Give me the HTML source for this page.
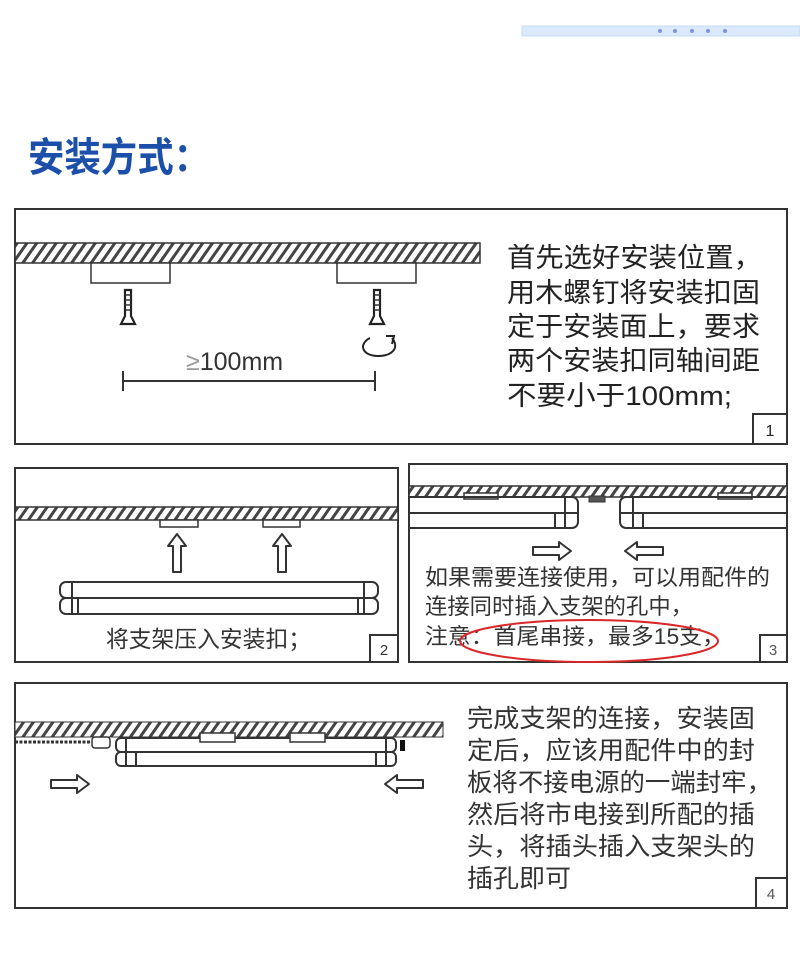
<!DOCTYPE html>
<html><head><meta charset="utf-8"><style>
html,body{margin:0;padding:0;background:#fff;}
svg{display:block;}
text{font-family:"Liberation Sans","Noto Sans CJK SC",sans-serif;}
</style></head><body>
<svg width="800" height="970" viewBox="0 0 800 970" xmlns="http://www.w3.org/2000/svg">
<defs>
<pattern id="h" width="8" height="8" patternUnits="userSpaceOnUse" patternTransform="rotate(35)">
<rect width="8" height="8" fill="#fff"/><rect width="3" height="8" fill="#444"/>
</pattern>
<g id="screw"><path d="M-3,0 L3,0 L3,26 L7,34 L-7,34 L-3,26 Z" fill="#fff" stroke="#222" stroke-width="2.2"/>
<path d="M-3,5 H3 M-3,10 H3 M-3,15 H3 M-3,20 H3" stroke="#333" stroke-width="1.4"/></g>
<g id="ar"><path d="M0,-4 H26 V-9 L38,0 L26,9 V4 H0 Z" fill="#fff" stroke="#333" stroke-width="2" stroke-linejoin="round"/></g>
</defs>

<rect x="522" y="26" width="278" height="10" fill="#dbe9fd" stroke="#c6dcf8"/>
<g fill="#7d93e6"><circle cx="660" cy="31" r="2"/><circle cx="675" cy="31" r="2"/><circle cx="692" cy="31" r="2"/><circle cx="708" cy="31" r="2"/><circle cx="725" cy="31" r="2"/></g>

<text x="28" y="171" font-size="40" font-weight="bold" fill="#1c4faa" textLength="182" lengthAdjust="spacingAndGlyphs">安装方式：</text>

<!-- Panel 1 -->
<rect x="15" y="209" width="772" height="235" fill="#fff" stroke="#333" stroke-width="2"/>
<rect x="15" y="243" width="465" height="20" fill="url(#h)" stroke="#333" stroke-width="1.5"/>
<rect x="91" y="263" width="79" height="20" fill="#fff" stroke="#333" stroke-width="1.5"/>
<rect x="337" y="263" width="79" height="20" fill="#fff" stroke="#333" stroke-width="1.5"/>
<use href="#screw" x="128" y="290"/>
<use href="#screw" x="377" y="290"/>
<path d="M370,338 C358,344 362,356 378,356 C392,356 400,348 392,338" fill="none" stroke="#222" stroke-width="2"/>
<path d="M386,336 L394,336 L392,344" fill="none" stroke="#222" stroke-width="2"/>
<text x="186" y="370" font-size="25" fill="#333"><tspan fill="#999">≥</tspan>100mm</text>
<path d="M123,381 H375 M123,371 V391 M375,371 V391" stroke="#333" stroke-width="2"/>
<g font-size="27" fill="#222" lengthAdjust="spacingAndGlyphs">
<text x="507" y="267" textLength="255" lengthAdjust="spacingAndGlyphs">首先选好安装位置，</text>
<text x="507" y="302" textLength="253" lengthAdjust="spacingAndGlyphs">用木螺钉将安装扣固</text>
<text x="507" y="336" textLength="253" lengthAdjust="spacingAndGlyphs">定于安装面上，要求</text>
<text x="507" y="370" textLength="253" lengthAdjust="spacingAndGlyphs">两个安装扣同轴间距</text>
<text x="507" y="405" textLength="225" lengthAdjust="spacingAndGlyphs">不要小于100mm;</text>
</g>
<rect x="753" y="414" width="34" height="30" fill="#fff" stroke="#333" stroke-width="2"/>
<text x="770" y="436" font-size="16" text-anchor="middle" fill="#222">1</text>

<!-- Panel 2 -->
<rect x="15" y="468" width="383" height="194" fill="#fff" stroke="#333" stroke-width="2"/>
<rect x="15" y="507" width="383" height="13" fill="url(#h)" stroke="#333" stroke-width="1.5"/>
<rect x="160" y="520" width="38" height="7" fill="#fff" stroke="#333" stroke-width="1.5"/>
<rect x="263" y="520" width="37" height="7" fill="#fff" stroke="#333" stroke-width="1.5"/>
<g transform="translate(177,572) rotate(-90)"><use href="#ar"/></g>
<g transform="translate(282,572) rotate(-90)"><use href="#ar"/></g>
<g fill="none" stroke="#333" stroke-width="2">
<rect x="60" y="582" width="318" height="16" rx="6"/>
<rect x="60" y="598" width="318" height="16" rx="6"/>
<path d="M72,582 V614 M78,598 V614 M364,582 V614 M358,598 V614"/>
</g>
<text x="106" y="647" font-size="23" fill="#333" textLength="205" lengthAdjust="spacingAndGlyphs">将支架压入安装扣；</text>
<rect x="370" y="635" width="28" height="27" fill="#fff" stroke="#333" stroke-width="2"/>
<text x="384" y="655" font-size="15" text-anchor="middle" fill="#333">2</text>

<!-- Panel 3 -->
<rect x="409" y="464" width="378" height="198" fill="#fff" stroke="#333" stroke-width="2"/>
<rect x="409" y="486" width="378" height="11" fill="url(#h)" stroke="#333" stroke-width="1.5"/>
<rect x="464" y="493" width="34" height="6" fill="#fff" stroke="#333" stroke-width="1.5"/>
<rect x="718" y="493" width="34" height="6" fill="#fff" stroke="#333" stroke-width="1.5"/>
<rect x="589" y="496" width="16" height="6" fill="#555" stroke="#333"/>
<g fill="none" stroke="#333" stroke-width="2">
<path d="M409,497 H572 a6,6 0 0 1 6,6 V522 a6,6 0 0 1 -6,6 H409 M409,513 H578 M565,497 V528 M555,513 V528"/>
<path d="M787,497 H626 a6,6 0 0 0 -6,6 V522 a6,6 0 0 0 6,6 H787 M787,513 H620 M633,497 V528 M643,513 V528"/>
</g>
<use href="#ar" x="533" y="551"/>
<g transform="translate(663,551) scale(-1,1)"><use href="#ar"/></g>
<g font-size="22" fill="#333">
<text x="425" y="585" textLength="345" lengthAdjust="spacingAndGlyphs">如果需要连接使用，可以用配件的</text>
<text x="425" y="614" textLength="268" lengthAdjust="spacingAndGlyphs">连接同时插入支架的孔中，</text>
<text x="425" y="644" textLength="300" lengthAdjust="spacingAndGlyphs">注意：首尾串接，最多15支，</text>
</g>
<ellipse cx="589" cy="641" rx="129" ry="21" fill="none" stroke="#d8282a" stroke-width="2"/>
<rect x="760" y="635" width="27" height="27" fill="#fff" stroke="#333" stroke-width="2"/>
<text x="773" y="655" font-size="15" text-anchor="middle" fill="#555">3</text>

<!-- Panel 4 -->
<rect x="15" y="683" width="772" height="225" fill="#fff" stroke="#333" stroke-width="2"/>
<rect x="15" y="722" width="428" height="15" fill="url(#h)" stroke="#333" stroke-width="1"/>
<path d="M15,742 H92" stroke="#333" stroke-width="3" stroke-dasharray="3,1.5"/>
<rect x="92" y="737" width="18" height="11" rx="3" fill="#fff" stroke="#333" stroke-width="1.5"/>
<g fill="none" stroke="#333" stroke-width="2">
<rect x="116" y="738" width="280" height="14" rx="5"/>
<rect x="116" y="752" width="280" height="14" rx="5"/>
<path d="M126,738 V766 M136,752 V766 M386,738 V766 M376,752 V766"/>
</g>
<rect x="200" y="733" width="35" height="9" fill="#fff" stroke="#333" stroke-width="1.5"/>
<rect x="290" y="733" width="35" height="9" fill="#fff" stroke="#333" stroke-width="1.5"/>
<rect x="400" y="740" width="5" height="11" fill="#111"/>
<use href="#ar" x="51" y="784"/>
<g transform="translate(423,784) scale(-1,1)"><use href="#ar"/></g>
<g font-size="25" fill="#333">
<text x="467" y="727" textLength="288" lengthAdjust="spacingAndGlyphs">完成支架的连接，安装固</text>
<text x="467" y="759" textLength="288" lengthAdjust="spacingAndGlyphs">定后，应该用配件中的封</text>
<text x="467" y="791" textLength="305" lengthAdjust="spacingAndGlyphs">板将不接电源的一端封牢，</text>
<text x="467" y="823" textLength="288" lengthAdjust="spacingAndGlyphs">然后将市电接到所配的插</text>
<text x="467" y="855" textLength="288" lengthAdjust="spacingAndGlyphs">头，将插头插入支架头的</text>
<text x="467" y="887" textLength="104" lengthAdjust="spacingAndGlyphs">插孔即可</text>
</g>
<rect x="756" y="878" width="31" height="30" fill="#fff" stroke="#333" stroke-width="2"/>
<text x="771" y="899" font-size="15" text-anchor="middle" fill="#555">4</text>
</svg>
</body></html>
